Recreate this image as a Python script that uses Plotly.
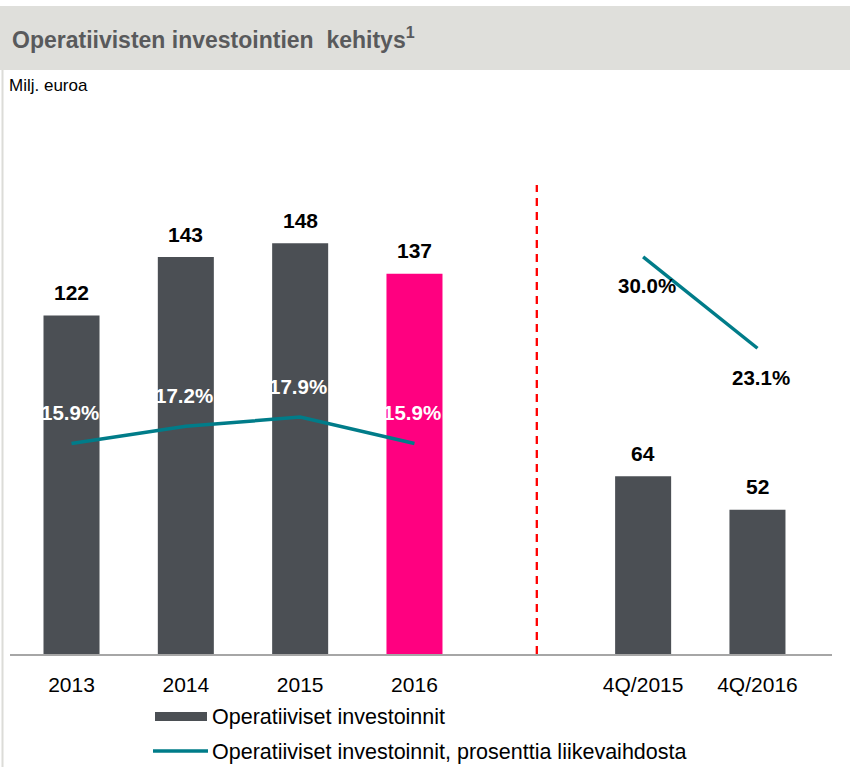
import plotly.graph_objects as go

# ---- data ----
categories = ["2013", "2014", "2015", "2016", " ", "4Q/2015", "4Q/2016"]
investments = [122, 143, 148, 137, None, 64, 52]
pct_of_sales = [15.9, 17.2, 17.9, 15.9, None, 30.0, 23.1]
series_names = ["Operatiiviset investoinnit", "Operatiiviset investoinnit, prosenttia liikevaihdosta"]
title_text = "Operatiivisten investointien  kehitys<sup>1</sup>"
unit_text = "Milj. euroa"

# ---- styling ----
W, H = 850, 767
L, R, T, B = 10, 18, 110, 113
PW, PH = W - L - R, H - T - B
FONT = "Liberation Sans, Arial, sans-serif"
GRAY = "#4B4F54"
PINK = "#FF0080"
TEAL = "#007C89"

def pxx(px):
    return (px - L) / PW

def pxy(py):
    return (H - B - py) / PH

bar_colors = [PINK if c == "2016" else GRAY for c in categories]

fig = go.Figure()
fig.add_trace(go.Bar(x=categories, y=investments, marker_color=bar_colors,
                     marker_line_width=0, width=0.49, showlegend=False,
                     hoverinfo="skip"))
fig.add_trace(go.Scatter(x=categories, y=pct_of_sales, yaxis="y2", mode="lines",
                         line=dict(color=TEAL, width=3.5), showlegend=False,
                         connectgaps=False, hoverinfo="skip"))

annotations = []
# bar value labels (x given as category index)
for i, v in enumerate(investments):
    if v is None:
        continue
    annotations.append(dict(x=i, y=v, xref="x", yref="y", text=f"<b>{v}</b>",
                            showarrow=False, yanchor="middle", yshift=23,
                            font=dict(family=FONT, size=21, color="black")))
# percent labels
for i, (c, p) in enumerate(zip(categories, pct_of_sales)):
    if p is None:
        continue
    quarterly = c.startswith("4Q")
    annotations.append(dict(x=i, y=p, xref="x", yref="y2", text=f"<b>{p:.1f}%</b>",
                            showarrow=False, yanchor="middle",
                            yshift=-29 if quarterly else 31,
                            xshift=4 if quarterly else -2,
                            font=dict(family=FONT, size=20.5,
                                      color="black" if quarterly else "white")))
# title, unit
annotations.append(dict(x=pxx(10), y=pxy(38), xref="paper", yref="paper", text=title_text,
                        showarrow=False, xanchor="left", yanchor="middle",
                        font=dict(family=FONT, size=23, color="#595A5C", weight="bold")))
annotations.append(dict(x=pxx(7), y=pxy(86), xref="paper", yref="paper", text=unit_text,
                        showarrow=False, xanchor="left", yanchor="middle",
                        font=dict(family=FONT, size=17, color="black")))
# legend text
annotations.append(dict(x=pxx(210), y=pxy(717), xref="paper", yref="paper", text=series_names[0],
                        showarrow=False, xanchor="left", yanchor="middle",
                        font=dict(family=FONT, size=21.5, color="black")))
annotations.append(dict(x=pxx(210), y=pxy(752), xref="paper", yref="paper", text=series_names[1],
                        showarrow=False, xanchor="left", yanchor="middle",
                        font=dict(family=FONT, size=21.5, color="black")))

shapes = [
    # header band
    dict(type="rect", xref="paper", yref="paper", x0=pxx(0), x1=pxx(850),
         y0=pxy(70), y1=pxy(6), fillcolor="#DFDFDB", line_width=0, layer="below"),
    # left border
    dict(type="line", xref="paper", yref="paper", x0=pxx(2.5), x1=pxx(2.5),
         y0=pxy(70), y1=pxy(767), line=dict(color="#DCDCD8", width=2)),
    # separator dashed line
    dict(type="line", xref="x", yref="paper", x0=4.07, x1=4.07,
         y0=0, y1=pxy(185), line=dict(color="#FF0000", width=2.3, dash="8px,6px")),
    # legend symbols
    dict(type="rect", xref="paper", yref="paper", x0=pxx(155), x1=pxx(207),
         y0=pxy(721), y1=pxy(712), fillcolor=GRAY, line_width=0),
    dict(type="line", xref="paper", yref="paper", x0=pxx(153), x1=pxx(208),
         y0=pxy(751), y1=pxy(751), line=dict(color=TEAL, width=3.5)),
]

fig.update_layout(
    width=W, height=H,
    margin=dict(l=L, r=R, t=T, b=B),
    paper_bgcolor="white", plot_bgcolor="white",
    showlegend=False,
    xaxis=dict(type="category", categoryorder="array", categoryarray=categories,
               range=[-0.538, 6.652], showgrid=False, zeroline=False,
               showline=True, linecolor="#A6A6A6", linewidth=2,
               ticks="outside", ticklen=11, tickcolor="rgba(0,0,0,0)",
               tickfont=dict(family=FONT, size=21, color="black"), fixedrange=True),
    yaxis=dict(range=[0, 196.0], visible=False, showgrid=False, zeroline=False, fixedrange=True),
    yaxis2=dict(range=[0, 41.1], overlaying="y", side="right", visible=False,
                showgrid=False, zeroline=False, fixedrange=True),
    annotations=annotations,
    shapes=shapes,
)

fig.write_html("out.html", config={"displayModeBar": False},
               post_script="document.body.style.margin='0';document.body.style.overflow='hidden';")
